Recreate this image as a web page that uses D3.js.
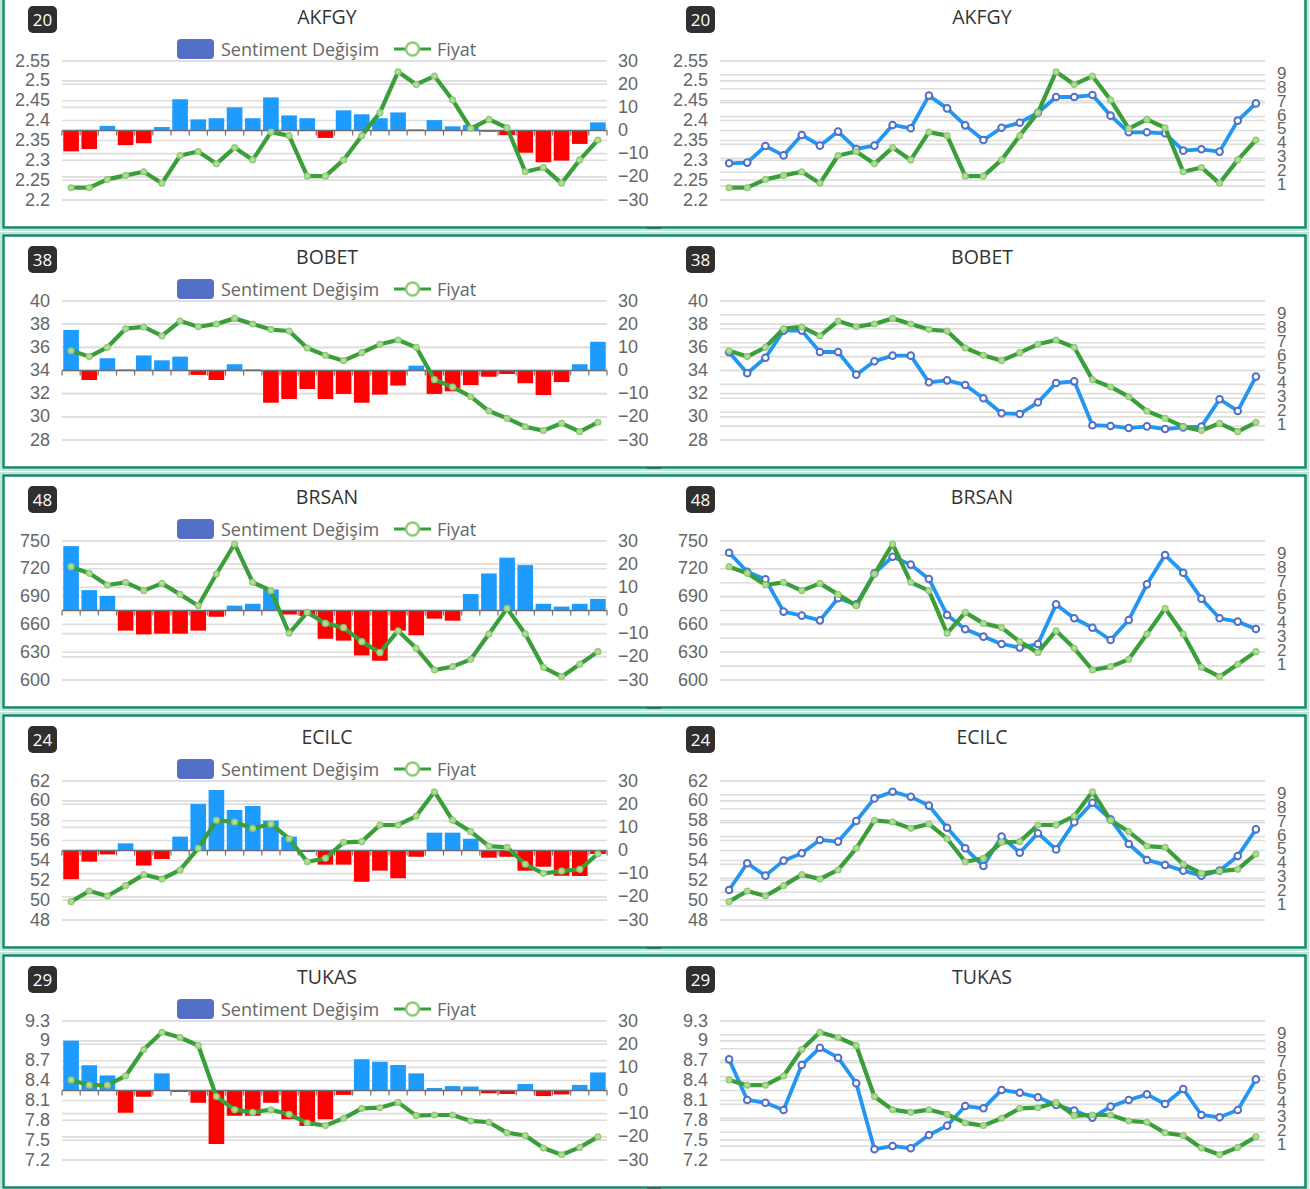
<!DOCTYPE html>
<html><head><meta charset="utf-8">
<script src="https://cdn.jsdelivr.net/npm/d3@7"></script>
<style>
html,body{margin:0;padding:0;background:#fff;}
svg{display:block;font-family:"Open Sans","Noto Sans",sans-serif;}
</style></head>
<body>
<svg id="c" width="1310" height="1189"></svg>
<script>
// ---------- DATA ----------
const stocks = ["AKFGY", "BOBET", "BRSAN", "ECILC", "TUKAS"];
const badges = ["20", "38", "48", "24", "29"];

const priceTicksAKFGY = [2.2, 2.25, 2.3, 2.35, 2.4, 2.45, 2.5, 2.55];
const priceTicksBOBET = [28, 30, 32, 34, 36, 38, 40];
const priceTicksBRSAN = [600, 630, 660, 690, 720, 750];
const priceTicksECILC = [48, 50, 52, 54, 56, 58, 60, 62];
const priceTicksTUKAS = [7.2, 7.5, 7.8, 8.1, 8.4, 8.7, 9, 9.3];

const changeTicks = [-30, -20, -10, 0, 10, 20, 30];
const sentimentDomain = [0, 10];
const sentimentTicks = [1, 2, 3, 4, 5, 6, 7, 8, 9];

const changeAKFGY = [-9,-8,2,-6.3,-5.5,1.5,13.5,4.8,5.3,10,5.3,14.3,6.5,5.3,-3.2,8.7,7,5.3,7.8,0.5,4.5,1.8,2.4,-0.5,-2,-9.6,-13.7,-13,-5.8,3.5];
const priceAKFGY = [2.231,2.231,2.252,2.262,2.271,2.242,2.312,2.322,2.291,2.332,2.301,2.371,2.362,2.26,2.26,2.301,2.362,2.42,2.523,2.491,2.512,2.452,2.38,2.403,2.382,2.271,2.282,2.242,2.301,2.351];
const sentAKFGY = [2.64,2.69,3.88,3.21,4.68,3.91,4.92,3.67,3.91,5.4,5.16,7.51,6.59,5.37,4.32,5.2,5.56,6.28,7.41,7.41,7.55,6.07,4.87,4.87,4.8,3.55,3.65,3.48,5.71,6.95];

const changeBOBET = [17.5,-4.1,5.3,0.5,6.5,4.4,6,-1.9,-4.1,2.7,0.5,-13.9,-12.3,-8,-12.3,-10.1,-13.9,-10.4,-6.5,2.1,-10.1,-9,-6.3,-2.7,-1.5,-5.5,-10.6,-5,2.7,12.4];
const priceBOBET = [35.71,35.2,36.0,37.61,37.76,36.98,38.27,37.78,38.02,38.5,38.02,37.53,37.41,35.94,35.31,34.85,35.54,36.26,36.63,36.0,33.21,32.58,31.74,30.5,29.87,29.15,28.81,29.44,28.72,29.53];
const sentBOBET = [6.31,4.8,5.92,7.87,7.87,6.33,6.33,4.7,5.66,6.07,6.07,4.15,4.29,3.96,3.0,1.92,1.87,2.71,4.1,4.22,1.06,1.01,0.86,0.98,0.79,0.91,0.96,2.93,2.09,4.56];

const changeBRSAN = [27.8,8.8,6.3,-8.7,-10.3,-10,-10,-8.7,-2.7,2.1,2.9,9.1,-1.7,-2.4,-12.2,-13,-19.4,-21.7,-8.7,-10.7,-3.5,-4.4,7.1,16,22.8,19.6,2.9,1.7,2.9,5];
const priceBRSAN = [722.3,715.1,702.5,705.4,696.4,704.3,692.4,680.2,714.4,746.8,705.4,696.4,650.4,673,661.1,656.5,641.4,629.5,653.2,634.2,610.8,614.4,622.3,649.6,677.3,649.6,613.7,603.6,616.9,630.6];
const sentBRSAN = [9.16,7.79,7.24,4.92,4.63,4.29,5.88,5.44,7.67,8.87,8.3,7.27,4.68,3.65,3.12,2.59,2.33,2.59,5.44,4.44,3.76,2.88,4.32,6.88,8.99,7.72,5.85,4.44,4.2,3.67];

const changeECILC = [-12.4,-4.8,-1.7,3.1,-6.5,-3.7,6,20.1,26.1,17.5,19.2,12.9,6,-0.6,-6.1,-6.1,-13.5,-8.7,-12,-2.7,7.7,7.7,5.1,-3.1,-2.7,-8.7,-7,-10.9,-11,-1.5];
const priceECILC = [49.85,50.92,50.42,51.46,52.57,52.13,53.04,55.22,58.04,57.87,57.23,57.67,56.19,53.87,54.21,55.82,55.89,57.57,57.57,58.47,60.92,58.04,56.9,55.45,55.32,53.61,52.7,52.93,53.1,54.65];
const sentECILC = [2.16,4.08,3.19,4.27,4.8,5.76,5.64,7.12,8.75,9.23,8.87,8.23,6.64,5.16,3.88,6.0,4.84,6.24,5.08,7.03,8.44,7.24,5.47,4.32,3.96,3.55,3.19,3.55,4.6,6.52];

const changeTUKAS = [21.5,10.9,6.5,-9.6,-2.7,7.4,-0.6,-5.3,-23.1,-10.9,-10.9,-5.3,-12.4,-15.3,-12.4,-1.9,13.5,12.4,11,7.4,1.1,1.9,1.7,-1.2,-1.5,2.8,-2.4,-1.7,2.4,7.8];
const priceTUKAS = [8.41,8.33,8.33,8.47,8.87,9.13,9.05,8.93,8.16,7.96,7.92,7.96,7.89,7.76,7.72,7.83,7.98,7.99,8.07,7.87,7.88,7.88,7.79,7.77,7.61,7.57,7.38,7.28,7.39,7.55];
const sentTUKAS = [7.24,4.32,4.12,3.6,6.83,8.08,7.36,5.52,0.77,1.01,0.84,1.8,2.47,3.88,3.72,5.04,4.84,4.51,3.96,3.55,3.05,3.84,4.32,4.72,4.03,5.11,3.24,3.07,3.6,5.8];

const legendLabels = ["Sentiment Değişim", "Fiyat"];

const rows = [
  {change: changeAKFGY, price: priceAKFGY, sent: sentAKFGY, ticks: priceTicksAKFGY},
  {change: changeBOBET, price: priceBOBET, sent: sentBOBET, ticks: priceTicksBOBET},
  {change: changeBRSAN, price: priceBRSAN, sent: sentBRSAN, ticks: priceTicksBRSAN},
  {change: changeECILC, price: priceECILC, sent: sentECILC, ticks: priceTicksECILC},
  {change: changeTUKAS, price: priceTUKAS, sent: sentTUKAS, ticks: priceTicksTUKAS}
];

// ---------- STYLE ----------
const C = {
  border: "#13896b", outer: "#bfe8d9", grid: "#dedede", axis: "#6e7079",
  label: "#666", title: "#333", barPos: "#1e9bff", barNeg: "#ff0000",
  legendBar: "#5470c6", green: "#3a9e3a", greenMark: "#91cc75",
  blue: "#2196f3", blueMark: "#5470c6"
};

const svg = d3.select("#c");

rows.forEach((r, k) => {
  const oy = 240 * k;
  const top = 61 + oy, bottom = 200 + oy;
  const g = svg.append("g");

  // box
  g.append("rect").attr("x", 1).attr("y", -7 + oy).attr("width", 1307).attr("height", 237)
    .attr("fill", "none").attr("stroke", C.outer).attr("stroke-width", 2);
  g.append("rect").attr("x", 3.5).attr("y", -4.5 + oy).attr("width", 1302).attr("height", 232)
    .attr("fill", "#fff").attr("stroke", C.border).attr("stroke-width", 2.5);
  g.append("line").attr("x1", 647).attr("x2", 661).attr("y1", 228 + oy).attr("y2", 228 + oy)
    .attr("stroke", "#555").attr("stroke-width", 1.5);

  const ticks = r.ticks;
  const n = r.price.length;
  const idx = d3.range(n);

  [{x0: 62, x1: 607, px: 0, left: true}, {x0: 720, x1: 1265, px: 655, left: false}].forEach(p => {
    const x = d3.scaleBand().domain(idx).range([p.x0, p.x1]).padding(0);
    const bw = x.bandwidth();
    const cx = i => x(i) + bw / 2;
    const yP = d3.scaleLinear().domain([ticks[0], ticks[ticks.length - 1]]).range([bottom, top]);
    const yC = d3.scaleLinear().domain([changeTicks[0], changeTicks[changeTicks.length - 1]]).range([bottom, top]);
    const yS = d3.scaleLinear().domain(sentimentDomain).range([bottom, top]);

    // badge + title
    const bx = p.left ? 28 : 686;
    g.append("rect").attr("x", bx).attr("y", 6 + oy).attr("width", 29).attr("height", 27).attr("rx", 5)
      .attr("fill", "#2f2f2f");
    g.append("text").attr("x", bx + 14.5).attr("y", 19.5 + oy).attr("text-anchor", "middle")
      .attr("dominant-baseline", "central").attr("fill", "#fff").attr("font-size", 17).text(badges[k]);
    g.append("text").attr("x", p.px + 327).attr("y", 16 + oy).attr("text-anchor", "middle")
      .attr("dominant-baseline", "central").attr("fill", C.title).attr("font-size", 19.5).text(stocks[k]);

    // gridlines
    const gridG = g.append("g");
    const secTicks = p.left ? changeTicks.map(yC) : d3.range(0, 11).map(yS);
    secTicks.concat(ticks.map(yP)).forEach(yy => {
      gridG.append("line").attr("x1", p.x0).attr("x2", p.x1).attr("y1", yy).attr("y2", yy)
        .attr("stroke", C.grid).attr("stroke-width", 1.6);
    });

    // left axis
    const la = g.append("g").attr("transform", `translate(${p.x0 - 12},0)`)
      .call(d3.axisLeft(yP).tickValues(ticks).tickSize(0).tickPadding(0).tickFormat(d3.format("~g")));
    la.select(".domain").remove();
    la.selectAll("text").attr("font-size", 18).attr("fill", C.label).attr("font-family", null).attr("dy", "0.28em");

    if (p.left) {
      // right axis for change
      const ra = g.append("g").attr("transform", `translate(${p.x1 + 11},0)`)
        .call(d3.axisRight(yC).tickValues(changeTicks).tickSize(0).tickPadding(0));
      ra.select(".domain").remove();
      ra.selectAll("text").attr("font-size", 18).attr("fill", C.label).attr("font-family", null).attr("dy", "0.28em");

      // bars
      g.append("g").selectAll("rect").data(r.change).join("rect")
        .attr("x", (d, i) => x(i) + bw * 0.07)
        .attr("width", bw * 0.86)
        .attr("y", d => Math.min(yC(d), yC(0)))
        .attr("height", d => Math.abs(yC(d) - yC(0)))
        .attr("fill", d => d >= 0 ? C.barPos : C.barNeg);

      // x axis at zero
      const xa = g.append("g");
      xa.append("line").attr("x1", p.x0).attr("x2", p.x1).attr("y1", yC(0)).attr("y2", yC(0))
        .attr("stroke", C.axis).attr("stroke-width", 1.5);
      d3.range(n + 1).forEach(i => {
        const tx = i < n ? x(i) : p.x1;
        xa.append("line").attr("x1", tx).attr("x2", tx).attr("y1", yC(0)).attr("y2", yC(0) + 5)
          .attr("stroke", C.axis).attr("stroke-width", 1.2);
      });

      // legend
      const lg = g.append("g");
      lg.append("rect").attr("x", 177).attr("y", 39 + oy).attr("width", 37).attr("height", 20).attr("rx", 4)
        .attr("fill", C.legendBar);
      lg.append("text").attr("x", 221).attr("y", 48.5 + oy).attr("dominant-baseline", "central")
        .attr("font-size", 18).attr("fill", C.label).text(legendLabels[0]);
      lg.append("line").attr("x1", 394).attr("x2", 431).attr("y1", 49 + oy).attr("y2", 49 + oy)
        .attr("stroke", C.green).attr("stroke-width", 3);
      lg.append("circle").attr("cx", 412.5).attr("cy", 49 + oy).attr("r", 6.5)
        .attr("fill", "#fff").attr("stroke", C.greenMark).attr("stroke-width", 2.5);
      lg.append("text").attr("x", 437).attr("y", 48.5 + oy).attr("dominant-baseline", "central")
        .attr("font-size", 18).attr("fill", C.label).text(legendLabels[1]);
    } else {
      // right axis for sentiment
      const ra = g.append("g").attr("transform", `translate(${p.x1 + 12},0)`)
        .call(d3.axisRight(yS).tickValues(sentimentTicks).tickSize(0).tickPadding(0));
      ra.select(".domain").remove();
      ra.selectAll("text").attr("font-size", 17).attr("fill", C.label).attr("font-family", null)
        .attr("dy", "0.2em");

      // sentiment line
      g.append("path").datum(r.sent)
        .attr("d", d3.line().x((d, i) => cx(i)).y(d => yS(d)))
        .attr("fill", "none").attr("stroke", C.blue).attr("stroke-width", 3.8).attr("stroke-linejoin", "round");
      g.append("g").selectAll("circle").data(r.sent).join("circle")
        .attr("cx", (d, i) => cx(i)).attr("cy", d => yS(d)).attr("r", 3.3)
        .attr("fill", "#fff").attr("stroke", C.blueMark).attr("stroke-width", 2);
    }

    // price line
    g.append("path").datum(r.price)
      .attr("d", d3.line().x((d, i) => cx(i)).y(d => yP(d)))
      .attr("fill", "none").attr("stroke", C.green).attr("stroke-width", 4.2).attr("stroke-linejoin", "round");
    g.append("g").selectAll("circle").data(r.price).join("circle")
      .attr("cx", (d, i) => cx(i)).attr("cy", d => yP(d)).attr("r", 2.8)
      .attr("fill", "#b5dca0").attr("stroke", C.greenMark).attr("stroke-width", 1.5);
  });
});
</script>
</body></html>
